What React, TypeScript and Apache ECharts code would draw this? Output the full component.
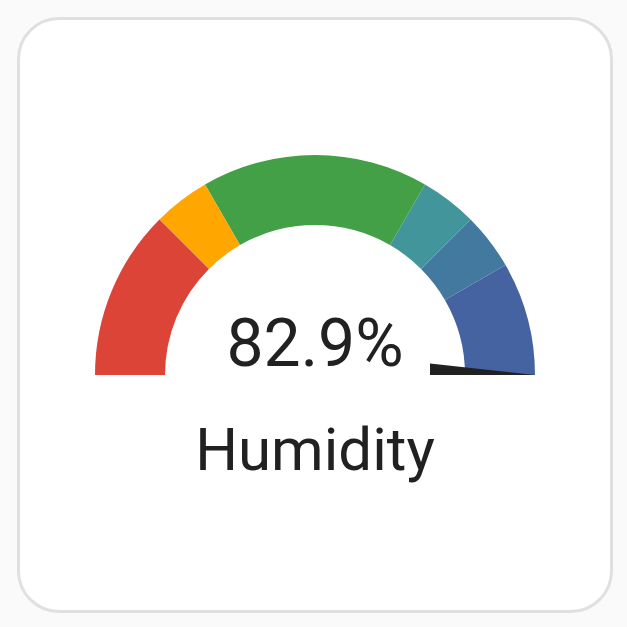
import React, { useEffect, useRef } from "react";
import * as echarts from "echarts";

// Gauge scale and severity segments (upper bound of each band)
const gaugeMin = 0;
const gaugeMax = 60;
const segmentEnds = [15, 20, 40, 45, 50, 60];
const segmentColors = ["#DB4437", "#FFA600", "#43A047", "#43959C", "#43799F", "#4463A0"];
const sensorName = "Humidity";
const sensorValue = 82.9;
const unit = "%";

export default function App() {
  const ref = useRef<HTMLDivElement>(null);
  useEffect(() => {
    if (!ref.current) return;
    const chart = echarts.init(ref.current, null, { renderer: "svg" });
    const span = gaugeMax - gaugeMin;
    const stops = segmentEnds.map((end, i) => [(end - gaugeMin) / span, segmentColors[i]]);
    chart.setOption({
      animation: false,
      series: [
        {
          type: "gauge",
          center: [315, 375],
          radius: 220,
          startAngle: 180,
          endAngle: 0,
          min: gaugeMin,
          max: gaugeMax,
          axisLine: { lineStyle: { width: 70, color: stops } },
          axisTick: { show: false },
          splitLine: { show: false },
          axisLabel: { show: false },
          pointer: {
            show: true,
            icon: "path://M1,0 L1,1 L0,1 Z",
            width: 11.6,
            length: 105,
            offsetCenter: [-5.8, -115],
            itemStyle: { color: "#212121" },
          },
          anchor: { show: false },
          title: {
            show: true,
            offsetCenter: [0, 74],
            fontFamily: "Roboto",
            fontSize: 60,
            color: "#212121",
          },
          detail: {
            show: true,
            offsetCenter: [0, -32],
            fontFamily: "Roboto",
            fontSize: 66,
            fontWeight: "normal",
            color: "#212121",
            formatter: (v: number) => `${v}${unit}`,
          },
          data: [{ value: sensorValue, name: sensorName }],
        },
      ],
    });
    return () => chart.dispose();
  }, []);

  return (
    <div style={{ position: "absolute", left: 0, top: 0, width: 627, height: 627, background: "#fafafa" }}>
      <div
        style={{
          position: "absolute",
          left: 17,
          top: 17,
          width: 596,
          height: 596,
          boxSizing: "border-box",
          border: "3px solid #e0e0e0",
          borderRadius: 42,
          background: "#ffffff",
        }}
      />
      <div ref={ref} style={{ position: "absolute", left: 0, top: 0, width: 627, height: 627 }} />
    </div>
  );
}
